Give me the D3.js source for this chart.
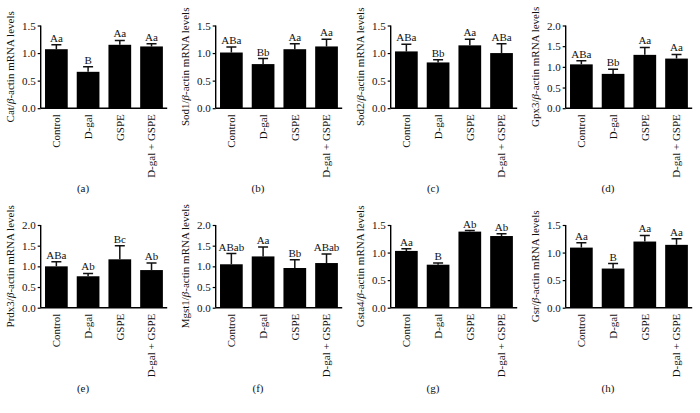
<!DOCTYPE html>
<html>
<head>
<meta charset="utf-8">
<script src="https://cdn.jsdelivr.net/npm/d3@7"></script>
<style>
  body { margin: 0; background: #fff; }
  text { font-family: "Liberation Serif", "DejaVu Serif", serif; fill: #111; }
</style>
</head>
<body>
<div class="chart"></div>
<script>
const groups = ['Control', 'D-gal', 'GSPE', 'D-gal + GSPE'];
const genes = ['Cat', 'Sod1', 'Sod2', 'Gpx3', 'Prdx3', 'Mgst1', 'Gsta4', 'Gsr'];
const panelTags = ['(a)', '(b)', '(c)', '(d)', '(e)', '(f)', '(g)', '(h)'];
const yMax = [1.5, 1.5, 1.5, 2.0, 2.0, 2.0, 1.5, 1.5];

const means = [
  [1.07, 0.66, 1.15, 1.12],
  [1.01, 0.80, 1.07, 1.12],
  [1.03, 0.83, 1.14, 1.00],
  [1.06, 0.83, 1.29, 1.20],
  [1.00, 0.76, 1.17, 0.91],
  [1.05, 1.24, 0.96, 1.08],
  [1.03, 0.78, 1.38, 1.30],
  [1.09, 0.71, 1.20, 1.14]
];
const errs = [
  [0.08, 0.09, 0.08, 0.05],
  [0.10, 0.10, 0.10, 0.13],
  [0.13, 0.05, 0.11, 0.17],
  [0.09, 0.11, 0.18, 0.10],
  [0.11, 0.07, 0.33, 0.17],
  [0.26, 0.23, 0.20, 0.22],
  [0.04, 0.03, 0.02, 0.04],
  [0.09, 0.09, 0.11, 0.11]
];
const letters = [
  ['Aa', 'B', 'Aa', 'Aa'],
  ['ABa', 'Bb', 'Aa', 'Aa'],
  ['ABa', 'Bb', 'Aa', 'ABa'],
  ['ABa', 'Bb', 'Aa', 'Aa'],
  ['ABa', 'Ab', 'Bc', 'Ab'],
  ['ABab', 'Aa', 'Bb', 'ABab'],
  ['Aa', 'B', 'Ab', 'Ab'],
  ['Aa', 'B', 'Aa', 'Aa']
];

const width = 700;
const height = 413;

const svg = d3.select('.chart').append('svg')
  .attr('width', width).attr('height', height);

genes.forEach((gene, i) => {
  const col = i % 4;
  const row = Math.floor(i / 4);
  const ox = col * 175;
  const oy = row * 199.5;
  const left = 40.7, top = 25.5, bottom = 108.2;

  const g = svg.append('g').attr('transform', `translate(${ox},${oy})`);

  const x = d3.scaleBand().domain(groups)
    .range([left, left + 126.5]).paddingInner(0.284).paddingOuter(0.136);
  const y = d3.scaleLinear().domain([0, yMax[i]]).range([bottom, top]);

  const rows = groups.map((grp, j) => ({
    grp, m: means[i][j], e: errs[i][j], lab: letters[i][j]
  }));

  // error bars (upper whisker only)
  g.selectAll('.err').data(rows).enter().append('path')
    .attr('class', 'err')
    .attr('d', d => {
      const cx = x(d.grp) + x.bandwidth() / 2;
      return `M${cx},${y(d.m)}V${y(d.m + d.e)}M${cx - 5},${y(d.m + d.e)}H${cx + 5}`;
    })
    .attr('stroke', '#111').attr('stroke-width', 1.5).attr('fill', 'none');

  g.selectAll('.bar').data(rows).enter().append('rect')
    .attr('class', 'bar')
    .attr('x', d => x(d.grp))
    .attr('width', x.bandwidth())
    .attr('y', d => y(d.m))
    .attr('height', d => y(0) - y(d.m))
    .attr('fill', '#000');

  g.selectAll('.sig').data(rows).enter().append('text')
    .attr('class', 'sig')
    .attr('x', d => x(d.grp) + x.bandwidth() / 2)
    .attr('y', d => y(d.m + d.e) - 3)
    .attr('text-anchor', 'middle')
    .attr('font-size', 11)
    .text(d => d.lab);

  const yAxis = g.append('g').attr('transform', `translate(${left},0)`)
    .call(d3.axisLeft(y).tickValues(d3.range(0, yMax[i] + 0.01, 0.5))
      .tickFormat(d3.format('.1f')).tickSize(3).tickPadding(2));
  yAxis.select('.domain').attr('stroke-width', 1.4).attr('d', `M0,${top}V${bottom}`);
  yAxis.selectAll('line').attr('stroke-width', 1.2);
  yAxis.selectAll('text').attr('font-size', 11).attr('font-family', '"Liberation Serif", serif').attr('fill', '#111');

  const xAxis = g.append('g').attr('transform', `translate(0,${bottom})`)
    .call(d3.axisBottom(x).tickSize(0).tickPadding(0));
  xAxis.select('.domain').attr('stroke-width', 1.4).attr('d', `M${left},0H${left + 126.5}`);
  xAxis.selectAll('text')
    .attr('font-size', 11).attr('font-family', '"Liberation Serif", serif').attr('fill', '#111')
    .attr('transform', 'rotate(-90)')
    .attr('text-anchor', 'end')
    .attr('x', -6).attr('y', 0).attr('dy', '0.35em');

  const title = g.append('text')
    .attr('transform', `translate(14,${(top + bottom) / 2}) rotate(-90)`)
    .attr('text-anchor', 'middle')
    .attr('font-size', 11);
  title.append('tspan').text(gene + '/');
  title.append('tspan').attr('font-style', 'italic').text('β');
  title.append('tspan').text('-actin mRNA levels');

  g.append('text')
    .attr('x', 83).attr('y', 192)
    .attr('text-anchor', 'middle')
    .attr('font-size', 11)
    .text(panelTags[i]);
});
</script>
</body>
</html>
